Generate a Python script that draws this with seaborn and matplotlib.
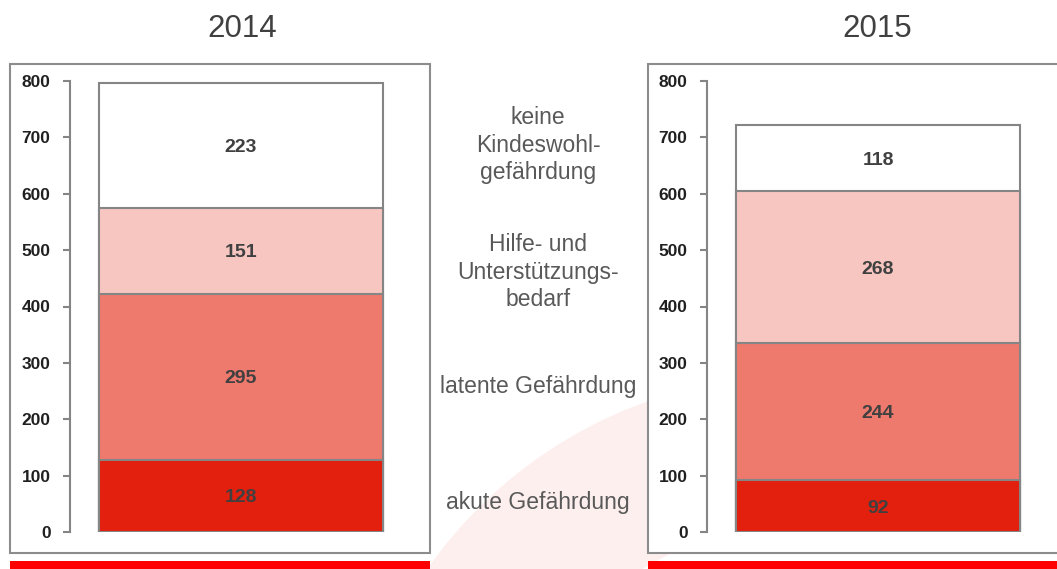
import numpy as np
import pandas as pd
import matplotlib
matplotlib.use('Agg')
import matplotlib.pyplot as plt
import seaborn as sns
from matplotlib.patches import Rectangle, Wedge

sns.set_style('white')
plt.rcParams['font.family'] = ['Liberation Sans', 'DejaVu Sans']

# Daten
years = ['2014', '2015']
categories = ['akute Gefährdung', 'latente Gefährdung',
              'Hilfe- und\nUnterstützungs-\nbedarf',
              'keine\nKindeswohl-\ngefährdung']
values_2014 = [128, 295, 151, 223]
values_2015 = [92, 244, 268, 118]
seg_colors = ['#E31F0E', '#EE796D', '#F7C6C1', '#FFFFFF']

edge_grey = '#858585'
text_grey = '#404040'
W, H = 1057, 569

fig = plt.figure(figsize=(W / 100, H / 100), dpi=100)

# Hintergrund-Achse in Pixelkoordinaten
bg = fig.add_axes([0, 0, 1, 1])
bg.set_xlim(0, W)
bg.set_ylim(H, 0)
bg.axis('off')

# blasser Bogen im Hintergrund
bg.add_patch(Wedge((800, 830), 455, 180, 280, width=150,
                   facecolor='#FDEFEE', edgecolor='none', zorder=0))

# Rahmen und rote Leisten
for x0, x1 in [(10, 430), (648, 1070)]:
    bg.add_patch(Rectangle((x0, 64), x1 - x0, 489, facecolor='white',
                           edgecolor='#8C8C8C', lw=1.5, zorder=1))
    bg.add_patch(Rectangle((x0, 561), x1 - x0, 10, facecolor='#FF0000',
                           edgecolor='none', zorder=1))

# Jahrestitel
bg.text(242, 25, years[0], ha='center', va='center_baseline', fontsize=22.5, color=text_grey)
bg.text(877, 25, years[1], ha='center', va='center_baseline', fontsize=22.5, color=text_grey)

# Legendentexte in der Mitte
mid_y = [503, 386, 272, 145]
for lab, yy in zip(categories, mid_y):
    bg.text(538, yy, lab, ha='center', va='center', fontsize=16.5,
            color='#595959', linespacing=1.26)


def draw_stack(ax_rect, year, vals):
    ax = fig.add_axes(ax_rect)
    ax.patch.set_alpha(0)
    cum = np.cumsum(vals)
    # von oben nach unten zeichnen, damit die Stapel sichtbar bleiben
    for i in range(len(vals) - 1, -1, -1):
        df = pd.DataFrame({'year': [year], 'value': [cum[i]]})
        sns.barplot(data=df, x='year', y='value', color=seg_colors[i],
                    saturation=1, edgecolor=edge_grey, linewidth=1.5,
                    width=0.8, errorbar=None, ax=ax)
    for i, v in enumerate(vals):
        ax.text(0, cum[i] - v / 2, str(v), ha='center', va='center_baseline',
                fontsize=14, fontweight='bold', color=text_grey)
    ax.set_xlim(-0.4817, 0.504)
    ax.set_ylim(0, 800)
    ax.set_yticks(range(0, 801, 100))
    ax.set_xticks([])
    ax.set_xlabel('')
    ax.set_ylabel('')
    for s in ['top', 'right', 'bottom']:
        ax.spines[s].set_visible(False)
    ax.spines['left'].set_color(edge_grey)
    ax.spines['left'].set_linewidth(1.5)
    ax.tick_params(axis='y', left=True, length=5, width=1.5, color=edge_grey,
                   pad=9, labelsize=12.5, labelcolor='#202020')
    for t in ax.get_yticklabels():
        t.set_fontweight('bold')
    return ax


y0 = (H - 532) / H
h = (532 - 81) / H
draw_stack([70 / W, y0, 350 / W, h], years[0], values_2014)
draw_stack([707 / W, y0, 350 / W, h], years[1], values_2015)

plt.savefig('out.png', dpi=100)
